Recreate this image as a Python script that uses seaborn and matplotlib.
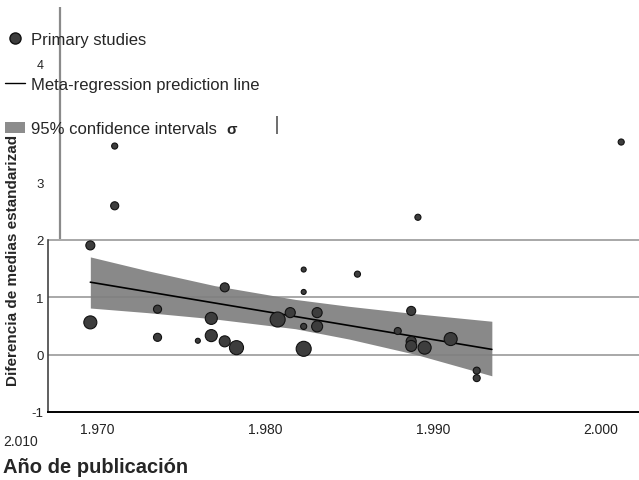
import numpy as np
import pandas as pd
import matplotlib
matplotlib.use("Agg")
import matplotlib.pyplot as plt
from matplotlib.lines import Line2D
from matplotlib.patches import Patch
import seaborn as sns

# Primary studies (year, standardized mean difference, study weight ~ marker area)
years = [1969.6, 1969.6, 1971.05, 1971.05, 1973.6, 1973.6, 1976.0, 1976.8, 1976.8,
         1977.6, 1977.6, 1978.3, 1980.75, 1981.5, 1982.3, 1982.3, 1982.3, 1982.3,
         1983.1, 1983.1, 1985.5, 1987.9, 1988.7, 1988.7, 1988.7, 1989.1, 1989.5,
         1991.05, 1992.6, 1992.6, 2001.2]
smd = [1.90, 0.56, 3.63, 2.59, 0.79, 0.30, 0.24, 0.63, 0.33,
       1.17, 0.23, 0.12, 0.61, 0.73, 1.48, 1.09, 0.49, 0.10,
       0.73, 0.49, 1.40, 0.41, 0.76, 0.23, 0.15, 2.39, 0.12,
       0.27, -0.28, -0.41, 3.70]
weights = [20, 42, 9, 16, 16, 16, 6, 36, 36,
           20, 30, 49, 56, 25, 6, 6, 9, 56,
           25, 30, 9, 12, 20, 25, 30, 9, 42,
           42, 12, 12, 9]

# meta-regression prediction line and its 95% band
fit_years = [1969.6, 1993.5]
fit_smd = [1.26, 0.09]
ci_years = [1969.6, 1973.0, 1977.0, 1981.8, 1985.0, 1989.0, 1993.5]
ci_upper = [1.70, 1.46, 1.20, 0.96, 0.84, 0.71, 0.58]
ci_lower = [0.81, 0.73, 0.62, 0.45, 0.27, 0.00, -0.37]

x_ticks = [1970, 1980, 1990, 2000]
x_ticklabels = ["1.970", "1.980", "1.990", "2.000"]
y_ticks = [-1, 0, 1, 2, 3]
grid_levels = [0, 1, 2]

df = pd.DataFrame({"year": years, "smd": smd, "weight": weights})

sns.set_theme(style="white")
plt.rcParams["font.family"] = ["Liberation Sans", "DejaVu Sans"]

fig = plt.figure(figsize=(6.39, 4.81), dpi=100)
ax = fig.add_axes([48 / 639, 68 / 481, 591 / 639, 413 / 481])

for g in grid_levels:
    ax.axhline(g, color="#a8a8a8", lw=1.4, zorder=0)

ax.fill_between(ci_years, ci_lower, ci_upper, color="#7f7f7f", alpha=0.92, lw=0, zorder=1)
sns.lineplot(x=fit_years, y=fit_smd, ax=ax, color="black", lw=1.2, zorder=2)
sns.scatterplot(data=df, x="year", y="smd", size="weight", sizes=(13, 117),
                size_norm=(6, 56), color="#3d3d3d", edgecolor="#111111",
                linewidth=0.8, legend=False, ax=ax, zorder=3)

# stray vertical strokes of the original export
ax.vlines([1967.8], 2.02, 6.05, color="#8a8a8a", lw=1.6, zorder=0)
ax.vlines([1980.7], 3.84, 4.15, color="#555555", lw=1.2, zorder=0)

ax.set_xlim(1967.08, 2002.26)
ax.set_ylim(-1, 6.19)
ax.set_xticks(x_ticks)
ax.set_xticklabels(x_ticklabels, fontsize=10, color="#222222")
ax.set_yticks(y_ticks)
ax.set_yticklabels([str(t) for t in y_ticks], fontsize=9.5, color="#222222")
ax.tick_params(axis="both", length=0)
ax.tick_params(axis="x", pad=7)
ax.tick_params(axis="y", pad=3)

for s in ["top", "right"]:
    ax.spines[s].set_visible(False)
ax.spines["left"].set_bounds(-1, 2)
ax.spines["left"].set_color("#444444")
ax.spines["left"].set_linewidth(1.2)
ax.spines["bottom"].set_color("black")
ax.spines["bottom"].set_linewidth(1.4)

ax.set_xlabel("")
ax.set_ylabel("Diferencia de medias estandarizad", fontsize=11, fontweight="bold")
ax.yaxis.set_label_coords(-0.048, 0.37)

fig.text(3 / 639, 1 - 468 / 481, "Año de publicación", fontsize=14.5,
         fontweight="bold", va="center", ha="left")
fig.text(3 / 639, 1 - 442 / 481, "2.010", fontsize=10, va="center", ha="left")
fig.text(226 / 639, 1 - 134 / 481, "σ", fontsize=11, fontweight="bold",
         va="baseline", ha="left")
fig.text(44 / 639, 1 - 66 / 481, "4", fontsize=9, va="center", ha="right",
         color="#222222")

handles = [
    Line2D([], [], marker="o", ls="", color="#3d3d3d", markeredgecolor="#111111",
           markersize=8),
    Line2D([], [], color="black", lw=1.0),
    Patch(facecolor="#8c8c8c", edgecolor="none"),
]
labels = ["Primary studies", "Meta-regression prediction line", "95% confidence intervals"]
fig.legend(handles, labels, loc="upper left", bbox_to_anchor=(-0.003, 0.945),
           frameon=False, fontsize=12, labelspacing=1.78, handlelength=1.2,
           handletextpad=0.4, borderaxespad=0)

fig.savefig("out.png", dpi=100)
